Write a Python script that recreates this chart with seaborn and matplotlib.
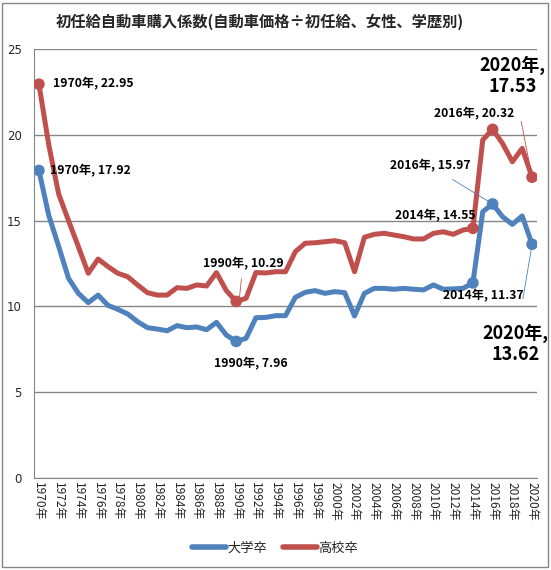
import matplotlib
matplotlib.use("Agg")
import matplotlib.pyplot as plt
from matplotlib.patches import Rectangle
import seaborn as sns
import pandas as pd

years = list(range(1970, 2021))
daigaku = [17.92, 15.3, 13.5, 11.64, 10.76, 10.22, 10.66, 10.06, 9.83, 9.56,
           9.11, 8.76, 8.68, 8.58, 8.88, 8.76, 8.80, 8.64, 9.07, 8.33,
           7.96, 8.14, 9.34, 9.36, 9.46, 9.46, 10.53, 10.82, 10.92, 10.76,
           10.86, 10.80, 9.44, 10.76, 11.05, 11.05, 11.00, 11.05, 11.00, 10.96,
           11.25, 11.00, 11.02, 11.05, 11.37, 15.52, 15.97, 15.23, 14.78, 15.27,
           13.62]
koukou = [22.95, 19.4, 16.55, 15.0, 13.48, 11.93, 12.76, 12.32, 11.93, 11.73,
          11.25, 10.80, 10.66, 10.66, 11.09, 11.05, 11.25, 11.19, 11.97, 10.92,
          10.29, 10.47, 11.97, 11.95, 12.02, 12.02, 13.19, 13.68, 13.71, 13.77,
          13.83, 13.71, 12.02, 14.03, 14.20, 14.26, 14.16, 14.06, 13.93, 13.93,
          14.26, 14.35, 14.20, 14.45, 14.55, 19.70, 20.32, 19.50, 18.43, 19.21,
          17.53]
series_names = ["大学卒", "高校卒"]
title = "初任給自動車購入係数(自動車価格÷初任給、女性、学歴別)"
mark_years = [1970, 1990, 2014, 2016, 2020]

BLUE = "#4F81BD"
RED = "#C0504D"
GRID = "#868686"

sns.set_style("white")
plt.rcParams["font.family"] = ["Noto Sans CJK JP", "DejaVu Sans"]

df = pd.DataFrame({"year": years * 2,
                   "value": daigaku + koukou,
                   "series": [series_names[0]] * len(years) + [series_names[1]] * len(years)})
marks = df[df["year"].isin(mark_years)]

fig = plt.figure(figsize=(5.51, 5.70), dpi=100)
ax = fig.add_axes([34 / 551, 1 - 478 / 570, 503 / 551, 429 / 570])

pal = {series_names[0]: BLUE, series_names[1]: RED}
sns.lineplot(data=df, x="year", y="value", hue="series", palette=pal,
             linewidth=3.6, ax=ax, zorder=3)
sns.scatterplot(data=marks, x="year", y="value", hue="series", palette=pal,
                s=70, edgecolor="none", ax=ax, legend=False, zorder=4)

ax.set_xlim(1969.5, 2020.5)
ax.set_ylim(0, 25)
ax.set_yticks([0, 5, 10, 15, 20, 25])
ax.yaxis.grid(True, color=GRID, linewidth=1)
ax.set_axisbelow(True)
ax.set_xticks(years[::2])
ax.set_xticklabels([f"{y}年" for y in years[::2]], rotation=-90, fontsize=8.6)
ax.set_xticks([y - 0.5 for y in years] + [2020.5], minor=True)
ax.tick_params(axis="x", which="major", length=0, pad=3)
ax.tick_params(axis="x", which="minor", length=4, color=GRID, direction="out")
ax.tick_params(axis="y", length=3, color=GRID, labelsize=8.5, pad=6)
for lab in ax.get_yticklabels():
    lab.set_family(["DejaVu Sans"])
ax.set_xlabel("")
ax.set_ylabel("")
for side in ["top", "right"]:
    ax.spines[side].set_visible(False)
for side in ["left", "bottom"]:
    ax.spines[side].set_color(GRID)

small = dict(fontsize=8.8, fontweight="bold", color="black", zorder=6)
big = dict(fontsize=13, fontweight="bold", color="black", zorder=6,
           ha="center", va="center", linespacing=1.15)

def val(s, y):
    arr = daigaku if s == 0 else koukou
    return arr[years.index(y)]

ax.text(1971.4, 22.96, f"1970年, {val(1, 1970):.2f}", ha="left", va="center", **small)
ax.text(1971.1, 17.9, f"1970年, {val(0, 1970):.2f}", ha="left", va="center", **small)
ax.annotate(f"1990年, {val(1, 1990):.2f}", xy=(1990.3, 10.35), xytext=(1990.7, 12.5),
            ha="center", va="center",
            arrowprops=dict(arrowstyle="-", color=RED, lw=0.6, shrinkA=4, shrinkB=0), **small)
ax.text(1991.5, 6.68, f"1990年, {val(0, 1990):.2f}", ha="center", va="center", **small)
ax.text(2010.2, 15.27, f"2014年, {val(1, 2014):.2f}", ha="center", va="center", **small)
ax.text(2015.1, 10.6, f"2014年, {val(0, 2014):.2f}", ha="center", va="center", **small)
ax.text(2014.1, 21.25, f"2016年, {val(1, 2016):.2f}", ha="center", va="center", **small)
ax.annotate(f"2016年, {val(0, 2016):.2f}", xy=(2016, 15.97), xytext=(2009.7, 18.18),
            ha="center", va="center",
            arrowprops=dict(arrowstyle="-", color=BLUE, lw=0.6, shrinkA=5, shrinkB=4), **small)
ax.annotate(f"2020年,\n{val(1, 2020):.2f}", xy=(2020, 17.53), xytext=(2018.0, 23.43),
            annotation_clip=False,
            arrowprops=dict(arrowstyle="-", color=RED, lw=0.6, shrinkA=16, shrinkB=4), **big)
ax.annotate(f"2020年,\n{val(0, 2020):.2f}", xy=(2020, 13.62), xytext=(2018.3, 7.8),
            annotation_clip=False,
            arrowprops=dict(arrowstyle="-", color=BLUE, lw=0.6, shrinkA=16, shrinkB=4), **big)

ax.legend(loc="center", bbox_to_anchor=(275 / 551, 1 - 548 / 570),
          bbox_transform=fig.transFigure, ncol=2, frameon=False, fontsize=9.5,
          handlelength=2.6, handletextpad=0.1, columnspacing=1.2)
for line in ax.get_legend().get_lines():
    line.set_linewidth(4)

fig.text(260 / 551, 1 - 22 / 570, title, ha="center", va="center",
         fontsize=11, fontweight="bold")
fig.patches.append(Rectangle((2 / 551, 3 / 570), 546 / 551, 564 / 570,
                             transform=fig.transFigure, fill=False,
                             edgecolor=GRID, linewidth=1))

fig.savefig("out.png", dpi=100)
